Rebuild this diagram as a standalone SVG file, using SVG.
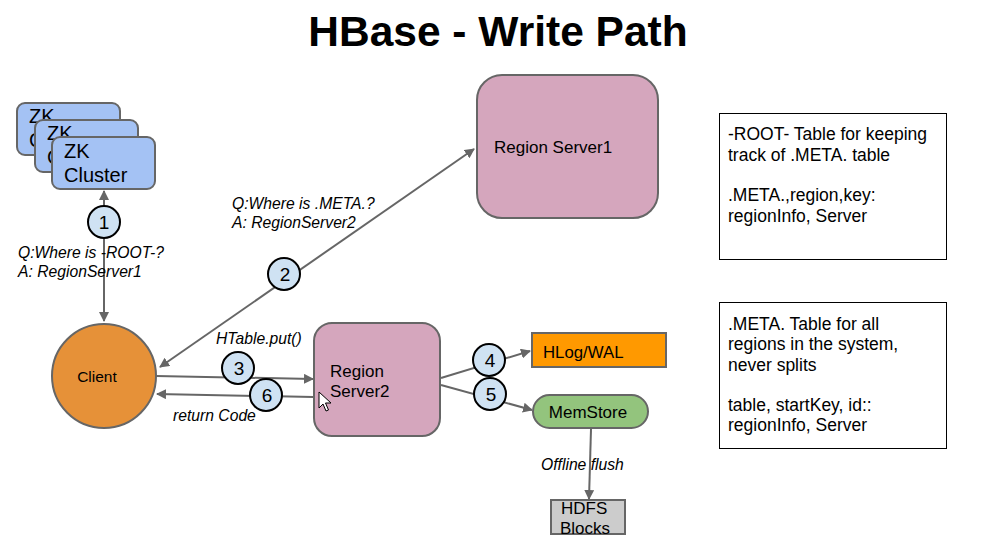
<svg xmlns="http://www.w3.org/2000/svg" width="997" height="543" viewBox="0 0 997 543">
<style>
.t{font-family:"Liberation Sans",Arial,sans-serif;fill:#000}
.it{font-family:"Liberation Sans",Arial,sans-serif;font-style:italic;font-size:15.7px;fill:#000}
.zk{fill:#a4c2f4;stroke:#666;stroke-width:2}
.rs{fill:#d5a6bd;stroke:#666;stroke-width:2}
.num{fill:#cfe2f3;stroke:#000;stroke-width:2}
.nt{font-family:"Liberation Sans",Arial,sans-serif;font-size:19px;fill:#000;text-anchor:middle}
.ln{stroke:#666;stroke-width:2;fill:none}
.box{fill:#fff;stroke:#000;stroke-width:1}
.note{font-family:"Liberation Sans",Arial,sans-serif;font-size:17.5px;fill:#000}
</style>
<defs>
<marker id="ah" viewBox="0 0 10 10" refX="9" refY="5" markerWidth="5" markerHeight="5" orient="auto-start-reverse" markerUnits="strokeWidth">
<path d="M0,0 L10,5 L0,10 z" fill="#666"/>
</marker>
</defs>
<rect width="997" height="543" fill="#fff"/>
<text class="t" x="498" y="46" font-size="42.5" font-weight="bold" text-anchor="middle">HBase - Write Path</text>

<g id="zk3">
<rect class="zk" x="17" y="103" width="103" height="52" rx="8"/>
<text class="t" x="29" y="123" font-size="20">ZK</text>
<text class="t" x="29" y="147" font-size="20">Cluster</text>
</g>
<g id="zk2">
<rect class="zk" x="35" y="120" width="103" height="52" rx="8"/>
<text class="t" x="47" y="140" font-size="20">ZK</text>
<text class="t" x="47" y="164" font-size="20">Cluster</text>
</g>
<g id="zk1">
<rect class="zk" x="52" y="137" width="103" height="52" rx="8"/>
<text class="t" x="64" y="158" font-size="20">ZK</text>
<text class="t" x="64" y="182" font-size="20">Cluster</text>
</g>

<g id="connectors">
<line class="ln" x1="104" y1="191" x2="104" y2="321" marker-start="url(#ah)" marker-end="url(#ah)"/>
<line class="ln" x1="160" y1="367" x2="474" y2="149" marker-start="url(#ah)" marker-end="url(#ah)"/>
<line class="ln" x1="156" y1="376" x2="313" y2="379" marker-end="url(#ah)"/>
<line class="ln" x1="313" y1="397" x2="157" y2="394" marker-end="url(#ah)"/>
<line class="ln" x1="441" y1="378" x2="530" y2="351" marker-end="url(#ah)"/>
<line class="ln" x1="441" y1="385" x2="532" y2="410" marker-end="url(#ah)"/>
<line class="ln" x1="591" y1="429" x2="589" y2="499" marker-end="url(#ah)"/>
</g>

<g id="client">
<circle cx="104" cy="376" r="52" fill="#e69138" stroke="#666" stroke-width="2"/>
<text class="t" x="97" y="382" font-size="15.5" text-anchor="middle">Client</text>
</g>

<g id="rs1">
<rect class="rs" x="477" y="75" width="181" height="143" rx="25"/>
<text class="t" x="494" y="153" font-size="17">Region Server1</text>
</g>

<g id="rs2">
<rect class="rs" x="314" y="323" width="126" height="113" rx="18"/>
<text class="t" x="330" y="377" font-size="17">Region</text>
<text class="t" x="330" y="397" font-size="17">Server2</text>
</g>

<g id="hlog">
<rect x="532" y="333" width="134" height="34" fill="#ff9900" stroke="#666" stroke-width="2"/>
<text class="t" x="543" y="358" font-size="16.8">HLog/WAL</text>
</g>

<g id="memstore">
<rect x="533" y="395" width="115" height="33" rx="16.5" fill="#93c47d" stroke="#666" stroke-width="2"/>
<text class="t" x="588" y="418" font-size="17" text-anchor="middle">MemStore</text>
</g>

<g id="hdfs">
<rect x="551" y="500" width="74" height="34" fill="#cccccc" stroke="#666" stroke-width="2"/>
<text class="t" x="561" y="514" font-size="17">HDFS</text>
<text class="t" x="560" y="534" font-size="17">Blocks</text>
</g>

<g id="labels">
<text class="it" x="18" y="258">Q:Where is -ROOT-?</text>
<text class="it" x="18" y="277">A: RegionServer1</text>
<text class="it" x="232" y="209">Q:Where is .META.?</text>
<text class="it" x="232" y="228">A: RegionServer2</text>
<text class="it" x="216" y="344">HTable.put()</text>
<text class="it" x="173" y="421">return Code</text>
<text class="it" x="541" y="470">Offline flush</text>
</g>

<g id="n1"><circle class="num" cx="104" cy="222" r="16"/><text class="nt" x="104" y="229">1</text></g>
<g id="n2"><circle class="num" cx="284" cy="274" r="16"/><text class="nt" x="285" y="281">2</text></g>
<g id="n3"><circle class="num" cx="238" cy="368" r="16"/><text class="nt" x="239" y="375">3</text></g>
<g id="n6"><circle class="num" cx="266" cy="395" r="16"/><text class="nt" x="267" y="402">6</text></g>
<g id="n4"><circle class="num" cx="489" cy="360" r="16"/><text class="nt" x="490" y="367">4</text></g>
<g id="n5"><circle class="num" cx="490" cy="394" r="16"/><text class="nt" x="491" y="401">5</text></g>

<g id="note1">
<rect class="box" x="719.5" y="113.5" width="227" height="146"/>
<text class="note" x="728" y="140">-ROOT- Table for keeping</text>
<text class="note" x="728" y="161">track of .META. table</text>
<text class="note" x="728" y="201">.META.,region,key:</text>
<text class="note" x="728" y="222">regionInfo, Server</text>
</g>
<g id="note2">
<rect class="box" x="719.5" y="302.5" width="227" height="146"/>
<text class="note" x="728" y="330">.META. Table for all</text>
<text class="note" x="728" y="350">regions in the system,</text>
<text class="note" x="728" y="371">never splits</text>
<text class="note" x="728" y="411">table, startKey, id::</text>
<text class="note" x="728" y="431">regionInfo, Server</text>
</g>

<path d="M319,392 L319,408 L323,404 L326,411 L328.5,410 L325.5,403 L331,403 Z" fill="#fff" stroke="#000" stroke-width="1"/>
</svg>
